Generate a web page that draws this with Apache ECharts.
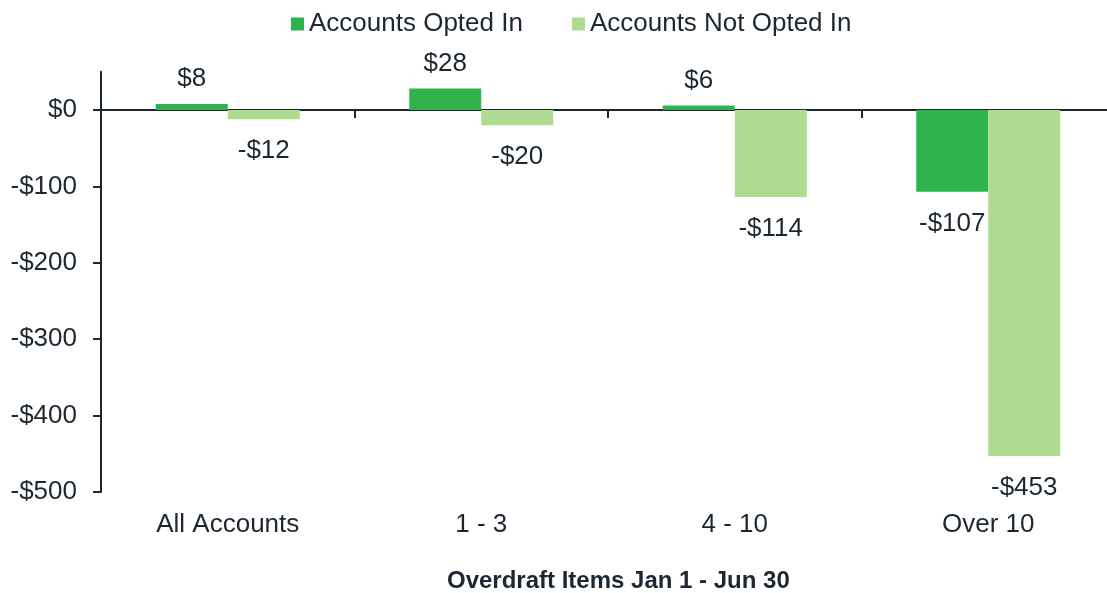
<!DOCTYPE html>
<html>
<head>
<meta charset="utf-8">
<script src="https://cdn.jsdelivr.net/npm/echarts@6/dist/echarts.min.js"></script>
<style>
  html, body { margin: 0; padding: 0; background: #fff; overflow: hidden; }
  #chart { width: 1120px; height: 593px; }
</style>
</head>
<body>
<div id="chart"></div>
<script>
const categories = ['All Accounts', '1 - 3', '4 - 10', 'Over 10'];
const optedIn = [8, 28, 6, -107];
const notOptedIn = [-12, -20, -114, -453];
const yTicks = [-500, -400, -300, -200, -100, 0];

const textColor = '#1d2731';
const font = 'Liberation Sans, Arial, sans-serif';

const money = v => (v < 0 ? '-$' + (-v) : '$' + v);

// labels go above positive bars, below negative ones
const withLabels = arr => arr.map(v => ({
  value: v,
  label: { position: v < 0 ? 'bottom' : 'top', distance: v < 0 ? 19 : 12 }
}));

const barLabel = {
  show: true,
  fontSize: 26,
  fontFamily: font,
  color: textColor,
  formatter: p => money(p.value)
};

let myChart = echarts.init(document.getElementById('chart'));
let option = {
  animation: false,
  textStyle: { fontFamily: font, color: textColor },
  legend: {
    top: 6,
    left: 286,
    itemWidth: 13,
    itemHeight: 13,
    itemGap: 49,
    icon: 'rect',
    textStyle: { fontSize: 26, color: textColor, fontFamily: font },
    data: ['Accounts Opted In', 'Accounts Not Opted In']
  },
  grid: { left: 101, top: 71.8, width: 1014, height: 420.2, containLabel: false },
  xAxis: [
    {
      type: 'category',
      data: categories,
      axisLine: { onZero: true, lineStyle: { color: textColor, width: 2 } },
      axisTick: { show: true, length: 8, lineStyle: { color: textColor, width: 2 } },
      axisLabel: { show: false }
    },
    {
      type: 'category',
      data: categories,
      position: 'bottom',
      axisLine: { show: false },
      axisTick: { show: false },
      axisLabel: { fontSize: 26, color: textColor, fontFamily: font, margin: 20 }
    }
  ],
  yAxis: {
    type: 'value',
    min: yTicks[0],
    max: 50,
    interval: 100,
    splitLine: { show: false },
    axisLine: { show: true, lineStyle: { color: textColor, width: 2 } },
    axisTick: { show: true, length: 8, customValues: yTicks, lineStyle: { color: textColor, width: 2 } },
    axisLabel: {
      fontSize: 26,
      color: textColor,
      fontFamily: font,
      margin: 24,
      customValues: yTicks,
      formatter: v => (yTicks.indexOf(v) >= 0 ? money(v) : '')
    }
  },
  graphic: [{
    type: 'text',
    left: 447,
    top: 569,
    style: {
      text: 'Overdraft Items Jan 1 - Jun 30',
      font: 'bold 24px ' + font,
      fill: textColor
    }
  }],
  series: [
    {
      name: 'Accounts Opted In',
      type: 'bar',
      data: withLabels(optedIn),
      barWidth: 72,
      barGap: '0%',
      itemStyle: { color: '#2fb34c' },
      label: barLabel
    },
    {
      name: 'Accounts Not Opted In',
      type: 'bar',
      data: withLabels(notOptedIn),
      barWidth: 72,
      barGap: '0%',
      itemStyle: { color: '#aedb90' },
      label: barLabel
    }
  ]
};

option && myChart.setOption(option);
</script>
</body>
</html>
